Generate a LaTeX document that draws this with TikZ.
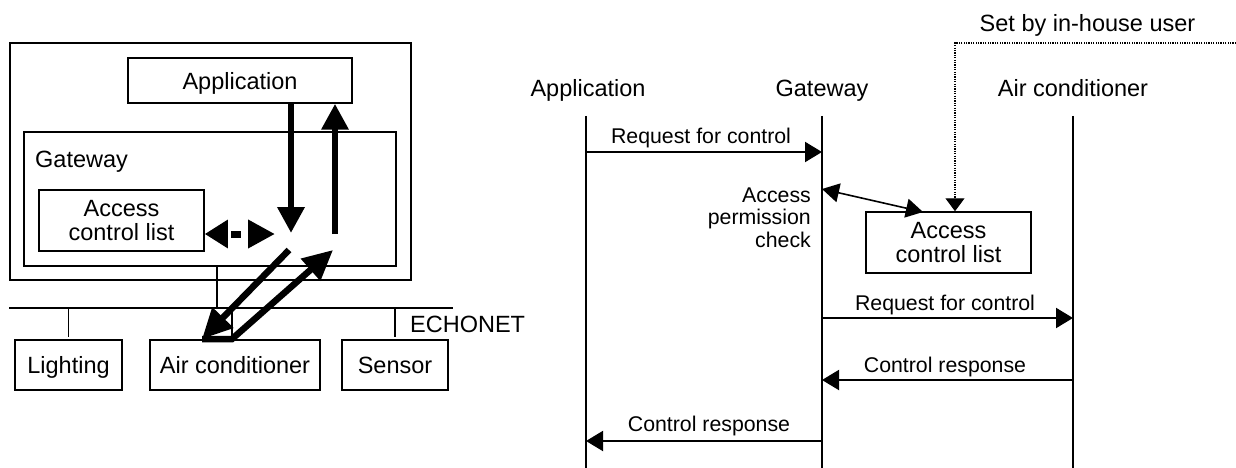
\documentclass[tikz,border=0pt]{standalone}
\usepackage{fontspec}
\setmainfont{Liberation Sans}
\usetikzlibrary{arrows.meta}
\newcommand\bigtxt{\fontsize{23.5}{24.5}\selectfont}
\newcommand\smalltxt{\fontsize{21.3}{22.5}\selectfont}
\begin{document}
\begin{tikzpicture}[x=1pt,y=-1pt,
  box/.style={draw,line width=1.5pt,inner sep=0pt,align=center,font=\bigtxt,text depth=0pt},
  txt/.style={inner sep=0pt,font=\bigtxt},
  lbl/.style={inner sep=0pt,font=\smalltxt},
  wire/.style={line width=1.5pt},
  fat/.style={line width=6.5pt,-{Triangle[length=26pt,width=26pt]}},
  msg/.style={line width=2pt,-{Triangle[length=17pt,width=20pt]}},
  life/.style={line width=2pt}]
\useasboundingbox (0,0) rectangle (1236,468);

% ---------- home network (left) ----------
\node[box,minimum width=401pt,minimum height=237pt] (home) at (210.5,161.5) {};
\node[box,minimum width=224pt,minimum height=45pt] (app) at (240,80.5) {Application};
\node[box,minimum width=372pt,minimum height=134pt] (gw) at (210,199) {};
\node[txt,anchor=base west] (gwname) at (35,167) {Gateway};
\node[box,minimum width=165pt,minimum height=61pt] (acl) at (121.5,220.5) {Access\\control list};

\node[box,minimum width=107pt,minimum height=50pt] (light) at (68.5,365) {Lighting};
\node[box,minimum width=170pt,minimum height=50pt] (aircon) at (235,365) {Air conditioner};
\node[box,minimum width=106pt,minimum height=50pt] (sensor) at (395,365) {Sensor};
\node[txt,anchor=base west] (echonet) at (410,332) {ECHONET};

% ECHONET bus and drops
\coordinate (busL) at (9,308);
\coordinate (busR) at (453,308);
\draw[wire] (busL) -- (busR);
\draw[wire] (light.north |- busL) -- ([yshift=2pt]light.north);
\draw[wire] (sensor.north |- busL) -- ([yshift=2pt]sensor.north);
\coordinate (actap) at (232,308);
\draw[wire] (actap) -- (actap |- aircon.north);
\coordinate (gwtap) at (217,266);
\draw[wire] (gwtap) -- (gwtap |- busL);

% request / response flow through the gateway
\coordinate (dnTop) at (291,103);
\coordinate (dnEnd) at (291,233);
\draw[fat] (dnTop) -- (dnEnd);
\coordinate (upStart) at (335,234);
\draw[fat] (upStart) -- (upStart |- app.south);

\coordinate (chk) at (275,234);
\draw[line width=7pt,{Triangle[length=23pt,width=27pt]}-{Triangle[length=27pt,width=27pt]},
      dash pattern=on 0pt off 5pt on 10pt off 80pt] (acl.east |- chk) -- (chk);

\coordinate (d1s) at (289,250);
\coordinate (d1e) at (202,339);
\coordinate (d2e) at (333,250);
\draw[line width=6.5pt,-{Triangle[length=30pt,width=28pt]}] (d1s) -- (d1e);
\draw[line width=6.5pt,line join=miter,-{Triangle[length=30pt,width=28pt]}]
      (d1e) -- (actap |- d1e) -- (d2e);

% ---------- sequence (right) ----------
\node[txt,anchor=base] (appH) at (588,97) {Application};
\node[txt,anchor=base] (gwH) at (822,97) {Gateway};
\node[txt,anchor=base] (acH) at (1073,97) {Air conditioner};
\node[txt,anchor=base] (setby) at (1087.5,32) {Set by in-house user};

\coordinate (appT) at (586,116);  \coordinate (appB) at (586,468);
\coordinate (gwT) at (822,116);   \coordinate (gwB) at (822,468);
\coordinate (acT) at (1073,116);  \coordinate (acB) at (1073,468);
\draw[life] (appT) -- (appB);
\draw[life] (gwT) -- (gwB);
\draw[life] (acT) -- (acB);

% messages
\draw[msg] (appT |- 0,152) -- (gwT |- 0,152);
\node[lbl,anchor=base] (m1) at (701,143) {Request for control};

\node[lbl,anchor=base east,align=right] (apc) at (811,247) {Access\\permission\\check};

\node[box,minimum width=165pt,minimum height=61pt] (acl2) at (948.5,242.5) {Access\\control list};
\coordinate (aclIn) at (923,212);
\draw[line width=1.6pt,{Triangle[length=17pt,width=19pt]}-{Triangle[length=17pt,width=19pt]}]
      (gwT |- 0,189) -- (aclIn);

\coordinate (dotR) at (1236,43);
\coordinate (dotC) at (955,43);
\draw[line width=1.2pt,dash pattern=on 1.2pt off 1.2pt,-{Triangle[length=13pt,width=19pt]}]
      (dotR) -- (dotC) -- (dotC |- acl2.north);

\draw[msg] (gwT |- 0,318) -- (acT |- 0,318);
\node[lbl,anchor=base] (m2) at (945,310) {Request for control};

\draw[msg] (acT |- 0,380) -- (gwT |- 0,380);
\node[lbl,anchor=base] (m3) at (945,372) {Control response};

\draw[msg] (gwT |- 0,441) -- (appT |- 0,441);
\node[lbl,anchor=base] (m4) at (709,431) {Control response};
\end{tikzpicture}
\end{document}
